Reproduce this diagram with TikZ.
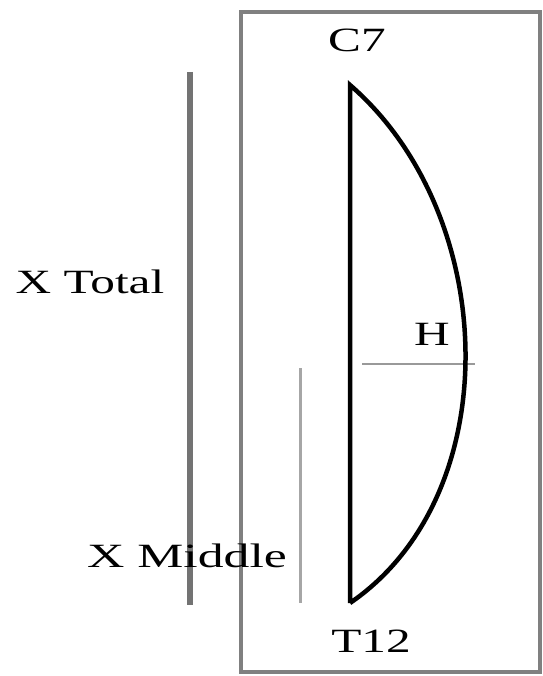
\documentclass[tikz,border=0pt]{standalone}
\usepackage{fontspec}
\setmainfont{Liberation Serif}
\begin{document}
\begin{tikzpicture}[x={(1pt,0)},y={(0,-1pt)},
  lbl/.style={anchor=base,inner sep=0pt,xscale=1.45,font=\fontsize{34}{40}\selectfont},
  frame/.style={draw=black!50,line width=3.5pt},
  bar/.style={draw=black!55,line width=5.5pt},
  thinbar/.style={draw=black!35,line width=3pt},
  hline/.style={draw=black!40,line width=2.5pt},
  spine/.style={draw=black,line width=4.5pt}]
\useasboundingbox (0,0) rectangle (542,676);
\draw[frame] (241,12) rectangle (540,672);
% coordinates
\coordinate (top) at (350,85);
\coordinate (bot) at (350,603);
\coordinate (tA) at (190,72);
\coordinate (tB) at (190,605);
\coordinate (mA) at (300,368);
\coordinate (mB) at (300,603);
\coordinate (hA) at (362,364);
\coordinate (hB) at (475,364);
% lines
\draw[bar] (tA) -- (tB);
\draw[thinbar] (mA) -- (mB);
\draw[hline] (hA) -- (hB);
\draw[spine,line join=miter] (bot) -- (top) .. controls (500,215) and (508,495) .. (bot);
% labels
\node[lbl] (c7) at (357,52) {C7};
\node[lbl] (t12) at (371,652) {T12};
\node[lbl] (h) at (432,345) {H};
\node[lbl] (xt) at (90,293) {X Total};
\node[lbl,xscale=1.05] (xm) at (187,567) {X Middle};
\end{tikzpicture}
\end{document}
